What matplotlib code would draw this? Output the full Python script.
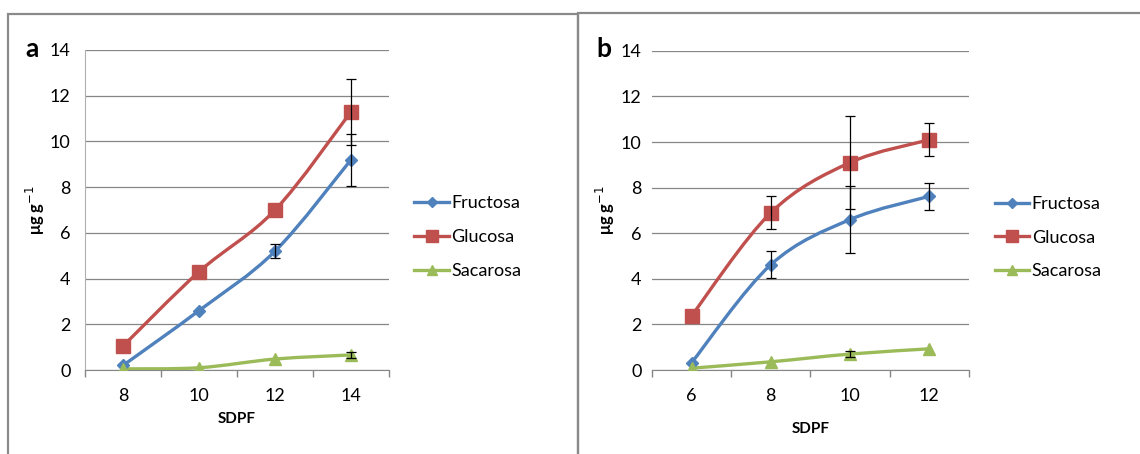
import numpy as np
import matplotlib.pyplot as plt
from matplotlib.path import Path
from matplotlib.patches import PathPatch, Rectangle
from matplotlib.lines import Line2D

plt.rcParams["font.family"] = ["Lato", "DejaVu Sans"]

# panel a
days_a = ["8", "10", "12", "14"]
fru_a = [0.2, 2.6, 5.2, 9.2]
fru_a_err = [0.0, 0.0, 0.3, 1.13]
glu_a = [1.05, 4.3, 7.0, 11.3]
glu_a_err = [0.0, 0.0, 0.0, 1.45]
sac_a = [0.05, 0.1, 0.48, 0.66]
sac_a_err = [0.0, 0.0, 0.0, 0.14]

# panel b
days_b = ["6", "8", "10", "12"]
fru_b = [0.32, 4.62, 6.6, 7.62]
fru_b_err = [0.0, 0.58, 1.47, 0.58]
glu_b = [2.38, 6.9, 9.1, 10.1]
glu_b_err = [0.0, 0.73, 2.05, 0.72]
sac_b = [0.08, 0.36, 0.7, 0.93]
sac_b_err = [0.0, 0.0, 0.14, 0.0]

names = ["Fructosa", "Glucosa", "Sacarosa"]
colors = ["#4F81BD", "#C0504D", "#9BBB59"]
markers = ["D", "s", "^"]
msizes = [6.5, 10, 8.5]


def smooth_path(x, y):
    # cubic bezier through the points, spreadsheet-style smoothing
    pts = np.column_stack([x, y]).astype(float)
    n = len(pts)
    verts = [pts[0]]
    codes = [Path.MOVETO]
    for i in range(n - 1):
        p0 = pts[max(i - 1, 0)]
        p1 = pts[i]
        p2 = pts[i + 1]
        p3 = pts[min(i + 2, n - 1)]
        c1 = p1 + (p2 - p0) / 6.0
        c2 = p2 - (p3 - p1) / 6.0
        verts += [c1, c2, p2]
        codes += [Path.CURVE4] * 3
    return Path(verts, codes)


def draw_panel(ax, days, series, errs, show_left_spine, ypad, ylab_x):
    x = np.arange(len(days))
    for vals, err, c, m, ms in zip(series, errs, colors, markers, msizes):
        ax.add_patch(PathPatch(smooth_path(x, vals), facecolor="none",
                               edgecolor=c, lw=2.4, zorder=3))
        ax.plot(x, vals, ls="none", marker=m, ms=ms, color=c,
                markeredgecolor=c, zorder=4)
        e = np.array(err)
        mask = e > 0
        ax.errorbar(x[mask], np.array(vals)[mask], yerr=e[mask], fmt="none",
                    ecolor="black", elinewidth=0.9, capsize=3.5,
                    capthick=0.9, zorder=5)
    ax.set_xlim(-0.5, len(days) - 0.5)
    ax.set_ylim(0, 14)
    ax.set_yticks(range(0, 15, 2))
    ax.set_xticks(x)
    ax.set_xticklabels(days)
    ax.set_xticks(np.arange(-0.5, len(days)), minor=True)
    ax.tick_params(axis="x", which="major", length=0, pad=13, labelsize=13)
    ax.tick_params(axis="x", which="minor", length=5, color="#868686",
                   width=1)
    ax.tick_params(axis="y", length=0, pad=ypad, labelsize=13)
    ax.grid(axis="y", color="#868686", lw=0.9)
    ax.set_axisbelow(True)
    for side in ["top", "right"]:
        ax.spines[side].set_visible(False)
    ax.spines["left"].set_visible(show_left_spine)
    ax.spines["left"].set_color("#b0b0b0")
    ax.spines["bottom"].set_color("#868686")
    ax.set_xlabel("SDPF", fontweight="bold", fontsize=11, labelpad=6)
    ax.set_ylabel("μg g$^{-1}$", fontweight="bold", fontsize=12)
    ax.yaxis.set_label_coords(ylab_x, 0.5)
    handles = [Line2D([], [], color=c, lw=2.4, marker=m, ms=ms * 0.85)
               for c, m, ms in zip(colors, markers, msizes)]
    ax.legend(handles, names, loc="center left",
              bbox_to_anchor=(1.03, 0.415), frameon=False, fontsize=13,
              handlelength=1.9, handletextpad=0.15, labelspacing=0.98)


fig = plt.figure(figsize=(11.4, 4.54), dpi=100)

ax_a = fig.add_axes([0.0746, 0.185, 0.2667, 0.705])
draw_panel(ax_a, days_a, [fru_a, glu_a, sac_a],
           [fru_a_err, glu_a_err, sac_a_err], True, 10.5, -0.125)

ax_b = fig.add_axes([0.5719, 0.185, 0.278, 0.703])
draw_panel(ax_b, days_b, [fru_b, glu_b, sac_b],
           [fru_b_err, glu_b_err, sac_b_err], False, 7.5, -0.11)
ax_b.xaxis.labelpad = 13

# outer frames of the two panels
frame_kw = dict(transform=fig.transFigure, fill=False, edgecolor="#8a8a8a",
                lw=1.6, clip_on=False)
fig.add_artist(Rectangle((0.007, -0.05), 0.5, 1.019, **frame_kw))
fig.add_artist(Rectangle((0.507, -0.05), 0.6, 1.022, **frame_kw))

fig.text(0.022, 0.875, "a", fontsize=19, fontweight="bold")
fig.text(0.523, 0.875, "b", fontsize=19, fontweight="bold")

fig.savefig("out.png", dpi=100)
